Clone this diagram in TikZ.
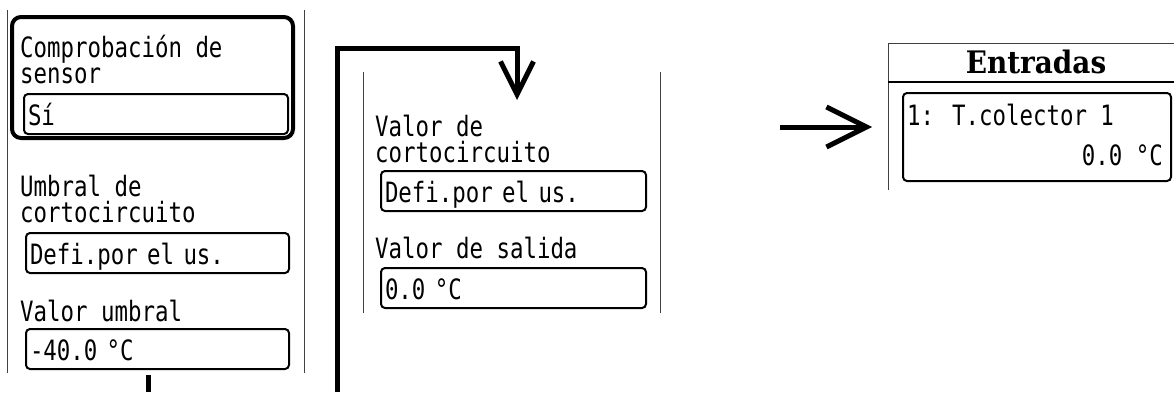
\documentclass[tikz,border=0pt]{standalone}
\usepackage{fontspec}
\newfontfamily\lcdfont[FakeStretch=0.8]{DejaVu Sans Mono}
\newfontfamily\headfont[FakeStretch=0.9]{DejaVu Serif}
\usetikzlibrary{arrows.meta}
\begin{document}
\begin{tikzpicture}[x=1pt,y=-1pt,
    lcd/.style={font=\lcdfont\fontsize{28}{25.5}\selectfont},
    lbl/.style={lcd,anchor=base west,align=left,inner sep=0pt},
    field/.style={lcd,draw,line width=2pt,rounded corners=4pt,anchor=north west,
      minimum width=263pt,minimum height=40pt,text height=23pt,text depth=0pt,
      inner xsep=4pt,text width=255pt,align=left},
    pane/.style={draw=black!75,line width=1pt},
    flow/.style={line width=5pt},
    tip/.style={-{Straight Barb[length=#1,width=#1,sharp]}}]
  \useasboundingbox (0,0) rectangle (1174,392);
  \draw[pane] (7,10) -- (7,373);
  \draw[pane] (304,10) -- (304,373);
  \draw[line width=4pt,rounded corners=9pt] (12,17) rectangle (293,138);
  \node[lbl] (sensorlbl) at (20,83) {Comprobación de\\sensor};
  \node[field,minimum width=264pt,text width=256pt] (sensorval) at (23,93) {Sí};
  \node[lbl] (umbrallbl) at (20,222) {Umbral de\\cortocircuito};
  \node[field] (umbralval) at (25,232) {Defi.por el us.};
  \node[lbl] (limlbl) at (20,321) {Valor umbral};
  \node[field] (limval) at (25,328) {-40.0 °C};
  \draw[pane] (363,72) -- (363,313);
  \draw[pane] (660,72) -- (660,313);
  \node[lbl] (shortlbl) at (375,162) {Valor de\\cortocircuito};
  \node[field,minimum width=265pt,text width=257pt] (shortval) at (380,170) {Defi.por el us.};
  \node[lbl] (outlbl) at (375,258) {Valor de salida};
  \node[field,minimum width=265pt,text width=257pt] (outval) at (380,267) {0.0 °C};
  \draw[pane] (1174,43) -- (888,43) -- (888,190);
  \draw[line width=2pt] (888,82) -- (1174,82);
  \node[font=\headfont\bfseries\fontsize{31}{31}\selectfont,anchor=base,inner sep=0pt] (title) at (1036,73) {Entradas};
  \draw[line width=2pt,rounded corners=4pt] (903,93) rectangle (1171,181);
  \node[lbl] (itemname) at (907,125) {1: T.colector 1};
  \node[lcd,anchor=base east,inner sep=0pt] (itemval) at (1163,165) {0.0 °C};
  \coordinate (p1out) at (148,375);
  \coordinate (p1cut) at (148,392);
  \coordinate (p2cut) at (337,392);
  \coordinate (p2turn) at (517,48);
  \coordinate (p2in) at (517,100);
  \coordinate (arrfrom) at (780,127);
  \coordinate (arrto) at (872,127);
  \draw[flow] (p1out) -- (p1cut);
  \draw[flow,tip=33pt] (p2cut) |- (p2turn) -- (p2in);
  \draw[flow,tip=40pt] (arrfrom) -- (arrto);
\end{tikzpicture}
\end{document}
